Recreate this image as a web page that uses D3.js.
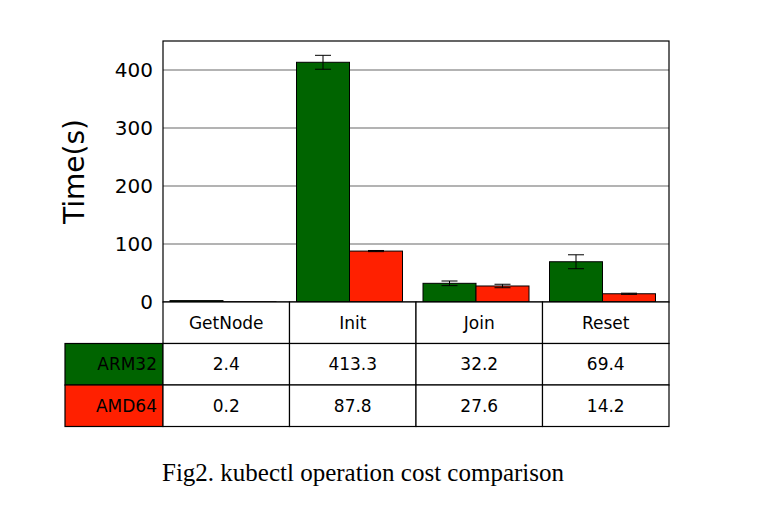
<!DOCTYPE html>
<html><head><meta charset="utf-8">
<script src="https://cdn.jsdelivr.net/npm/d3@7"></script>
<style>body{margin:0;background:#fff}text{font-family:"DejaVu Sans",sans-serif}</style>
</head><body><div id="c"></div>
<script>
const categories = ["GetNode", "Init", "Join", "Reset"];
const seriesNames = ["ARM32", "AMD64"];
const arm32 = [2.4, 413.3, 32.2, 69.4];
const amd64 = [0.2, 87.8, 27.6, 14.2];
const arm32Err = [0.5, 12, 4, 12];
const amd64Err = [0.1, 1, 3, 1];
const yTicks = [0, 100, 200, 300, 400];
const colors = ["#006400", "#ff2000"];

const svg = d3.select("#c").append("svg").attr("width", 773).attr("height", 524);
const pLeft = 163, pRight = 669, pTop = 41, pBottom = 302, rowH = 41.5, labelW = 98;

const x = d3.scaleBand().domain(categories).range([pLeft, pRight]);
const y = d3.scaleLinear().domain([0, 450]).range([pBottom, pTop]);

// grid
svg.selectAll(".grid").data(yTicks.filter(d => d > 0)).enter().append("line")
  .attr("x1", pLeft).attr("x2", pRight).attr("y1", d => y(d)).attr("y2", d => y(d))
  .attr("stroke", "#000").attr("stroke-width", 0.6);

const series = [arm32, amd64], errs = [arm32Err, amd64Err];
const bw = 53, off = 7;
series.forEach((vals, s) => {
  svg.selectAll(".b" + s).data(categories).enter().append("rect")
    .attr("x", d => x(d) + off + s * bw).attr("width", bw)
    .attr("y", (d, i) => y(vals[i])).attr("height", (d, i) => pBottom - y(vals[i]))
    .attr("fill", colors[s]).attr("stroke", "#000").attr("stroke-width", 1);
  categories.forEach((c, i) => {
    if (vals[i] < 5) return;
    const cx = x(c) + off + s * bw + bw / 2;
    const g = svg.append("g").attr("stroke", "#000").attr("stroke-width", 1);
    g.append("line").attr("x1", cx).attr("x2", cx).attr("y1", y(vals[i] + errs[s][i])).attr("y2", y(vals[i] - errs[s][i]));
    [vals[i] + errs[s][i], vals[i] - errs[s][i]].forEach(v =>
      g.append("line").attr("x1", cx - 8).attr("x2", cx + 8).attr("y1", y(v)).attr("y2", y(v)));
  });
});

// frame
svg.append("rect").attr("x", pLeft).attr("y", pTop).attr("width", pRight - pLeft).attr("height", pBottom - pTop)
  .attr("fill", "none").attr("stroke", "#000").attr("stroke-width", 1.2);

// y axis
svg.selectAll(".yt").data(yTicks).enter().append("text")
  .attr("x", pLeft - 10).attr("y", d => y(d)).attr("dy", "0.35em").attr("text-anchor", "end")
  .attr("font-size", 20).text(d => d);
svg.append("text").attr("transform", `translate(84,${(pTop + pBottom) / 2}) rotate(-90)`)
  .attr("text-anchor", "middle").attr("font-size", 28).text("Time(s)");

// table
const tb = svg.append("g").attr("stroke", "#000").attr("stroke-width", 1.2);
categories.forEach((c, i) => {
  tb.append("rect").attr("x", x(c)).attr("y", pBottom).attr("width", x.bandwidth()).attr("height", rowH).attr("fill", "#fff");
  svg.append("text").attr("x", x(c) + x.bandwidth() / 2).attr("y", pBottom + rowH / 2).attr("dy", "0.35em")
    .attr("text-anchor", "middle").attr("font-size", 17).text(c);
});
series.forEach((vals, s) => {
  const ry = pBottom + rowH * (s + 1);
  tb.append("rect").attr("x", pLeft - labelW).attr("y", ry).attr("width", labelW).attr("height", rowH).attr("fill", colors[s]);
  svg.append("text").attr("x", pLeft - 6).attr("y", ry + rowH / 2).attr("dy", "0.35em")
    .attr("text-anchor", "end").attr("font-size", 17).text(seriesNames[s]);
  categories.forEach((c, i) => {
    tb.append("rect").attr("x", x(c)).attr("y", ry).attr("width", x.bandwidth()).attr("height", rowH).attr("fill", "#fff");
    svg.append("text").attr("x", x(c) + x.bandwidth() / 2).attr("y", ry + rowH / 2).attr("dy", "0.35em")
      .attr("text-anchor", "middle").attr("font-size", 17).text(vals[i]);
  });
});

svg.append("text").attr("x", 363).attr("y", 481).attr("text-anchor", "middle")
  .style("font-family", "'Liberation Serif', serif")
  .attr("font-size", 25).text("Fig2. kubectl operation cost comparison");
</script></body></html>
